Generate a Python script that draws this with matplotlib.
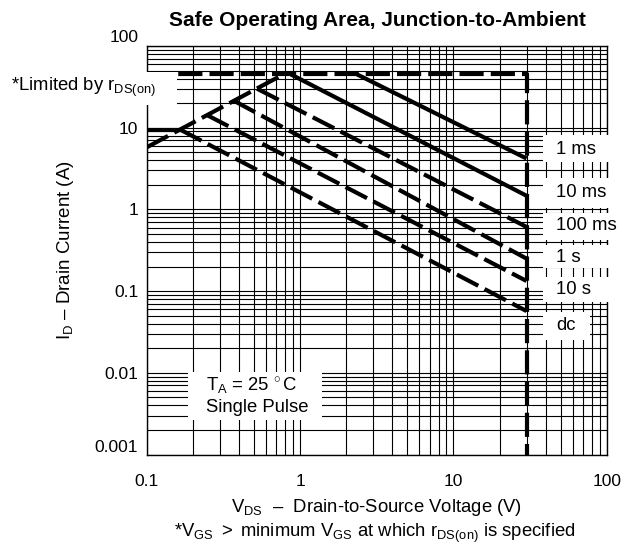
import matplotlib
matplotlib.use('Agg')
import matplotlib.pyplot as plt
from matplotlib.patches import Rectangle
from matplotlib.ticker import FixedLocator, LogLocator, NullFormatter
import matplotlib.transforms as mtransforms

plt.rcParams['font.family'] = ['Liberation Sans', 'DejaVu Sans']
plt.rcParams['mathtext.fontset'] = 'custom'
plt.rcParams['mathtext.rm'] = 'Liberation Sans'
plt.rcParams['mathtext.it'] = 'Liberation Sans:italic'
plt.rcParams['mathtext.bf'] = 'Liberation Sans:bold'

# ---------------- data ----------------
x_ticks = [0.1, 1, 10, 100]
x_tick_labels = ['0.1', '1', '10', '100']
y_ticks = [0.001, 0.01, 0.1, 1, 10, 100]
y_tick_labels = ['0.001', '0.01', '0.1', '1', '10', '100']

# r_DS(on) limit line
rds_v = [0.1, 0.78]
rds_i = [5.75, 45]
# current limit + voltage limit (dashed)
limit_v = [0.1, 30, 30]
limit_i = [45, 45, 0.001]
# short solid line at left
pulse_v = [0.1, 0.165]
pulse_i = [9.5, 9.5]

curve_names = ['1 ms', '10 ms', '100 ms', '1 s', '10 s', 'dc']
start_v = [2.35, 0.87, 0.525, 0.37, 0.247, 0.165]
start_i = [45, 45, 30, 21.4, 14.3, 9.5]
end_v = [30, 30, 30, 30, 30, 30]
end_i = [4.2, 1.47, 0.61, 0.25, 0.133, 0.057]
is_solid = [True, True, False, False, False, False]

# ---------------- figure ----------------
W, H = 625, 547
fig = plt.figure(figsize=(W / 100, H / 100), dpi=100)
x0, x1, y0, y1 = 146.7, 606.7, 46, 454.5
ax = fig.add_axes([x0 / W, 1 - y1 / H, (x1 - x0) / W, (y1 - y0) / H])

ax.set_xscale('log')
ax.set_yscale('log')
ax.set_xlim(0.1, 100)
ax.set_ylim(0.001, 100)

ax.xaxis.set_major_locator(FixedLocator(x_ticks))
ax.set_xticklabels(x_tick_labels)
ax.yaxis.set_major_locator(FixedLocator(y_ticks))
ax.set_yticklabels(y_tick_labels)
ax.xaxis.set_minor_locator(LogLocator(base=10, subs=range(2, 10), numticks=20))
ax.yaxis.set_minor_locator(LogLocator(base=10, subs=range(2, 10), numticks=20))
ax.xaxis.set_minor_formatter(NullFormatter())
ax.yaxis.set_minor_formatter(NullFormatter())
ax.tick_params(which='both', length=0)
ax.tick_params(axis='x', pad=14, labelsize=12.5)
ax.tick_params(axis='y', pad=6, labelsize=12.5)
ax.grid(True, which='both', color='black', linewidth=0.8)
ax.set_axisbelow(True)
for s in ax.spines.values():
    s.set_linewidth(1.0)

lw = 3.0
dash = (0, (5.8, 1.7))
ax.plot(rds_v, rds_i, color='black', lw=lw, linestyle=dash, zorder=4)
ax.plot(limit_v, limit_i, color='black', lw=lw, linestyle=dash, zorder=4)
ax.plot(pulse_v, pulse_i, color='black', lw=lw, solid_capstyle='butt', zorder=4)
for sv, si, ev, ei, sol in zip(start_v, start_i, end_v, end_i, is_solid):
    ax.plot([sv, ev], [si, ei], color='black', lw=lw,
            linestyle='-' if sol else dash, solid_capstyle='butt', zorder=4)

# shift top/bottom y tick labels slightly upward as in reference
fig.canvas.draw()
ylabels = ax.get_yticklabels()
for lbl, dy in ((ylabels[0], 8), (ylabels[-1], 10)):
    lbl.set_transform(lbl.get_transform() +
                      mtransforms.ScaledTranslation(0, dy / 100, fig.dpi_scale_trans))


def fx(x):
    return x / W


def fy(y):
    return 1 - y / H


def white_box(xa, ya, xb, yb):
    r = Rectangle((fx(xa), fy(yb)), (xb - xa) / W, (yb - ya) / H,
                  transform=fig.transFigure, facecolor='white', edgecolor='none',
                  zorder=10)
    fig.add_artist(r)


fs = 13.3
# label boxes on the right
box_y = [(135, 162), (178, 208), (213, 240), (245, 268), (277, 302), (312, 340)]
box_xr = [625, 625, 625, 625, 625, 590]
text_y = [149, 193, 226, 258, 289, 326]
for name, (ya, yb), xr, ty in zip(curve_names, box_y, box_xr, text_y):
    white_box(543, ya, xr, yb)
    fig.text(fx(556), fy(ty), name, fontsize=fs, ha='left', va='center', zorder=11)

# r_DS(on) note
white_box(0, 72, 177, 105)
fig.text(fx(11), fy(87), r'*Limited by r$_\mathrm{DS(on)}$', fontsize=fs,
         ha='left', va='center', zorder=11)

# TA box
white_box(188, 372, 322, 420)
fig.text(fx(206), fy(386), r'T$_\mathrm{A}$ = 25$\,^\circ$C', fontsize=fs,
         ha='left', va='center', zorder=11)
fig.text(fx(206), fy(408), 'Single Pulse', fontsize=fs,
         ha='left', va='center', zorder=11)

# titles and labels
fig.text(fx(377), fy(20), 'Safe Operating Area, Junction-to-Ambient',
         fontsize=15, fontweight='bold', ha='center', va='center')
fig.text(fx(66), fy(250), r'I$_\mathrm{D}$ – Drain Current (A)', fontsize=13.5,
         rotation=90, ha='center', va='center')
fig.text(fx(377), fy(508), r'V$_\mathrm{DS}$  –  Drain-to-Source Voltage (V)',
         fontsize=13.3, ha='center', va='center')
fig.text(fx(375), fy(533),
         r'*V$_\mathrm{GS}$ $>$ minimum V$_\mathrm{GS}$ at which r$_\mathrm{DS(on)}$ is specified',
         fontsize=13.3, ha='center', va='center')

fig.savefig('out.png', dpi=100)
